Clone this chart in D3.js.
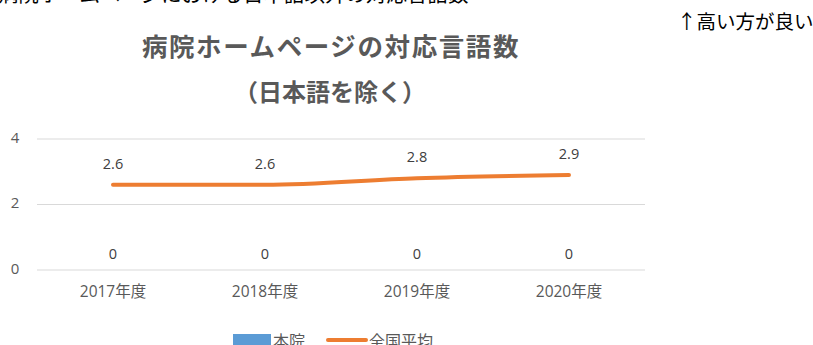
<!DOCTYPE html>
<html><head><meta charset="utf-8">
<script src="https://cdn.jsdelivr.net/npm/d3@7"></script>
<style>
body{margin:0;background:#fff;}
svg{display:block;font-family:"Noto Sans CJK JP","Open Sans",sans-serif;}
</style></head>
<body>
<svg id="chart" width="813" height="345"></svg>
<script>
// Chart data
const categories = ["2017年度", "2018年度", "2019年度", "2020年度"];
const hospitalValues = [0, 0, 0, 0];          // 本院
const nationalAverage = [2.6, 2.6, 2.8, 2.9];  // 全国平均
const yTicks = [0, 2, 4];
const seriesNames = ["本院", "全国平均"];

const svg = d3.select("#chart");
const plot = {left: 37, right: 645, top: 139, bottom: 270};

const x = d3.scaleBand().domain(categories).range([plot.left, plot.right]).paddingInner(0.33).paddingOuter(0.165);
const y = d3.scaleLinear().domain([0, 4]).range([plot.bottom, plot.top]);

// page caption running off the top edge
svg.append("text").attr("x", -2).attr("y", 2)
  .attr("font-size", 20.5).attr("fill", "#000")
  .text("病院ホームページにおける日本語以外の対応言語数");

svg.append("text").attr("x", 677).attr("y", 29)
  .attr("font-size", 19.5).attr("fill", "#000")
  .text("↑高い方が良い");

// title
svg.append("text").attr("x", 331).attr("y", 56).attr("text-anchor", "middle")
  .attr("font-size", 25.5).attr("letter-spacing", 1.6).attr("font-weight", "bold").attr("fill", "#595959")
  .text("病院ホームページの対応言語数");
svg.append("text").attr("x", 330).attr("y", 101).attr("text-anchor", "middle")
  .attr("font-size", 24).attr("font-weight", "bold").attr("fill", "#595959")
  .text("（日本語を除く）");

// gridlines
svg.append("g").selectAll("line").data(yTicks).join("line")
  .attr("x1", plot.left).attr("x2", plot.right)
  .attr("y1", d => y(d)).attr("y2", d => y(d))
  .attr("stroke", "#d9d9d9").attr("stroke-width", 1);

// y axis labels
const yAxis = d3.axisLeft(y).tickValues(yTicks).tickFormat(d3.format("d")).tickSize(0).tickPadding(0);
svg.append("g").attr("transform", `translate(${plot.left - 22},0)`).call(yAxis)
  .call(g => g.select(".domain").remove())
  .call(g => g.selectAll("text").attr("font-size", 15).attr("fill", "#595959")
    .attr("font-family", "'Open Sans',sans-serif").attr("text-anchor", "middle").attr("dy", "0.2em"));

// x axis labels
const xAxis = d3.axisBottom(x).tickSize(0).tickPadding(0);
svg.append("g").attr("transform", `translate(0,${plot.bottom + 22})`).call(xAxis)
  .call(g => g.select(".domain").remove())
  .call(g => g.selectAll("text").attr("font-size", 15.5).attr("fill", "#595959")
    .attr("font-family", "'Open Sans','Noto Sans CJK JP',sans-serif").attr("dy", "0.3em"));

// bars for 本院 (height zero)
const cx = d => x(d) + x.bandwidth() / 2;
svg.append("g").selectAll("rect").data(categories).join("rect")
  .attr("x", d => x(d)).attr("width", x.bandwidth())
  .attr("y", (d, i) => y(hospitalValues[i]))
  .attr("height", (d, i) => y(0) - y(hospitalValues[i]))
  .attr("fill", "#5b9bd5");
svg.append("g").selectAll("text").data(categories).join("text")
  .attr("x", cx).attr("y", (d, i) => y(hospitalValues[i]) - 11)
  .attr("text-anchor", "middle").attr("font-size", 14.5).attr("fill", "#404040")
  .attr("font-family", "'Open Sans',sans-serif")
  .text((d, i) => hospitalValues[i]);

// line for 全国平均
const line = d3.line().x((d, i) => cx(categories[i])).y(d => y(d)).curve(d3.curveMonotoneX);
svg.append("path").datum(nationalAverage).attr("d", line)
  .attr("fill", "none").attr("stroke", "#ed7d31").attr("stroke-width", 4)
  .attr("stroke-linecap", "round").attr("stroke-linejoin", "round");
svg.append("g").selectAll("text").data(nationalAverage).join("text")
  .attr("x", (d, i) => cx(categories[i])).attr("y", d => y(d) - 16)
  .attr("text-anchor", "middle").attr("font-size", 14.5).attr("fill", "#404040")
  .attr("font-family", "'Open Sans',sans-serif")
  .text(d => d.toFixed(1));

// legend
const lg = svg.append("g");
lg.append("rect").attr("x", 233).attr("y", 334).attr("width", 38).attr("height", 12).attr("fill", "#5b9bd5");
lg.append("text").attr("x", 273).attr("y", 347).attr("font-size", 16).attr("fill", "#595959").text(seriesNames[0]);
lg.append("line").attr("x1", 328).attr("x2", 366).attr("y1", 340).attr("y2", 340)
  .attr("stroke", "#ed7d31").attr("stroke-width", 4).attr("stroke-linecap", "round");
lg.append("text").attr("x", 369).attr("y", 347).attr("font-size", 16).attr("fill", "#595959").text(seriesNames[1]);
</script>
</body></html>
